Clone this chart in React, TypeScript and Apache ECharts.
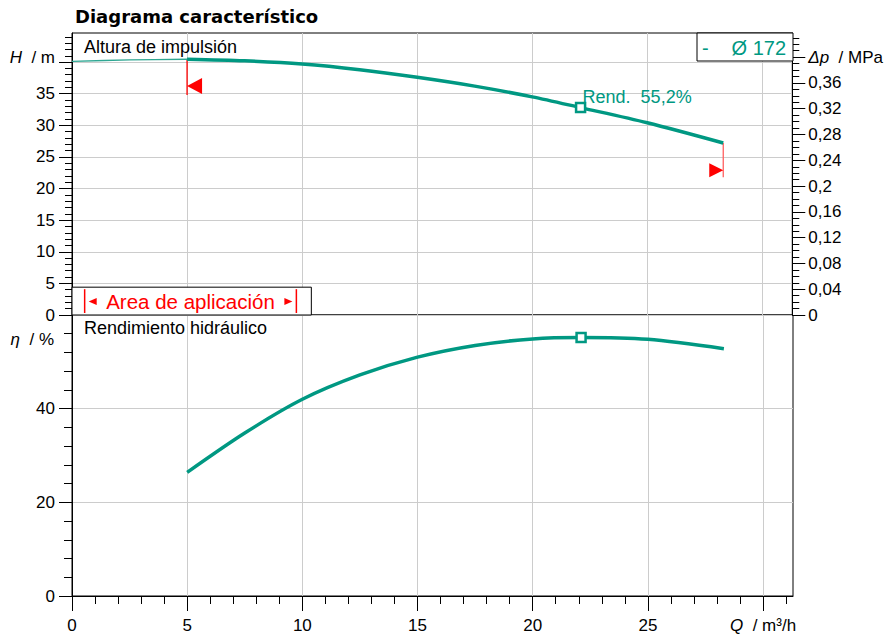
import React, { useEffect, useRef } from "react";
import * as echarts from "echarts";

const GREEN = "#009882";
const GREEN_THIN = "#2fa793";
const RED = "#ff0000";
const GRID_GRAY = "#cccccc";
const SANS = '"Liberation Sans", Arial, sans-serif';
const TITLE_FONT = '"DejaVu Sans", Verdana, sans-serif';

const TITLE = "Diagrama característico";
const PANEL_H = "Altura de impulsión";
const PANEL_ETA = "Rendimiento hidráulico";
const LEGEND_DASH = "-";
const LEGEND_LABEL = "Ø 172";
const AREA_LABEL = "Area de aplicación";
const DUTY_LABEL = "Rend.  55,2%";

const Q_MAX = 31.3;
const H_MAX = 44.6;
const MPA_PER_M = 0.00981;
const ETA_MAX = 60;

const Q_TICKS = [0, 5, 10, 15, 20, 25, 30];
const Q_MINOR_TICKS = Array.from({ length: 32 }, (_, i) => i);
const H_TICKS = [0, 5, 10, 15, 20, 25, 30, 35, 40];
const H_LABELS = [0, 5, 10, 15, 20, 25, 30, 35];
const H_MINOR_TICKS = Array.from({ length: 45 }, (_, i) => i);
const DP_TICKS = [0, 0.04, 0.08, 0.12, 0.16, 0.2, 0.24, 0.28, 0.32, 0.36, 0.4];
const DP_MINOR_TICKS = Array.from({ length: 44 }, (_, i) => i / 100);
const ETA_TICKS = [0, 20, 40];
const ETA_LABELS = [0, 20, 40];
const ETA_MINOR_TICKS = Array.from({ length: 16 }, (_, i) => i * 4);

// thin part of the head curve (outside the application range)
const Q_LOW = [0, 2.5, 5];
const H_LOW = [40.1, 40.35, 40.45];
// main curves
const Q_CURVE = [5, 7.5, 10, 12.5, 15, 17.5, 20, 22.1, 25, 28.3];
const H_CURVE = [40.45, 40.2, 39.7, 38.8, 37.6, 36.2, 34.5, 32.8, 30.4, 27.2];
const ETA_CURVE = [26.4, 34.8, 42.0, 47.2, 51.0, 53.5, 54.9, 55.2, 54.8, 52.8];

const DUTY_Q = 22.1;
const DUTY_H = 32.8;
const DUTY_ETA = 55.2;

// q, h top, h bottom, h of arrow
const LIMIT_LEFT = [5, 40.45, 34.8, 36.2];
const LIMIT_RIGHT = [28.3, 27.2, 21.8, 22.9];

const AREA_BOX = [10.4, 4.4];
const AREA_MARKS = [0.55, 9.75];

const GRID_LEFT = 72;
const GRID_WIDTH = 721;

const fmtComma = (v: number) => String(Math.round(v * 100) / 100).replace(".", ",");

function tickAxisBase(extra: any) {
  return {
    type: "value",
    axisLine: { show: false },
    axisLabel: { show: false },
    splitLine: { show: false },
    ...extra,
  };
}

export default function App() {
  const ref = useRef<HTMLDivElement>(null);

  useEffect(() => {
    if (!ref.current) return;
    const chart = echarts.init(ref.current, null, { renderer: "svg" });

    const labelStyle = { color: "#000", fontFamily: SANS, fontSize: 17 };
    const black = { color: "#000", width: 1 };
    const italic = { fontStyle: "italic", fontFamily: SANS, fontSize: 17, color: "#000" };

    const option: any = {
      animation: false,
      textStyle: { fontFamily: SANS },
      grid: [
        { left: GRID_LEFT, top: 33, width: GRID_WIDTH, height: 282, show: true, borderColor: "#000", borderWidth: 1, backgroundColor: "transparent" },
        { left: GRID_LEFT, top: 315, width: GRID_WIDTH, height: 281, show: true, borderColor: "#000", borderWidth: 1, backgroundColor: "transparent" },
      ],
      xAxis: [
        {
          gridIndex: 0, type: "value", min: 0, max: Q_MAX, interval: 5, position: "bottom",
          axisLine: { show: false }, axisTick: { show: false }, axisLabel: { show: false },
          splitLine: { show: true, lineStyle: { color: GRID_GRAY, width: 1 } },
        },
        {
          gridIndex: 1, type: "value", min: 0, max: Q_MAX, interval: 5, position: "bottom",
          axisLine: { show: true, onZero: false, lineStyle: black },
          axisTick: { show: true, inside: false, length: 15, customValues: Q_TICKS, lineStyle: black },
          axisLabel: {
            ...labelStyle, margin: 21, customValues: Q_TICKS,
            formatter: (v: number) => (Math.abs(v - 30) < 1e-6 ? "{i|Q}  / m³/h" : v % 5 === 0 && v < 30 ? String(v) : ""),
            rich: { i: italic },
          },
          splitLine: { show: true, lineStyle: { color: GRID_GRAY, width: 1 } },
        },
        tickAxisBase({
          gridIndex: 1, min: 0, max: Q_MAX, position: "bottom", interval: 1,
          axisTick: { show: true, inside: false, length: 8, customValues: Q_MINOR_TICKS, lineStyle: black },
        }),
      ],
      yAxis: [
        {
          gridIndex: 0, type: "value", min: 0, max: H_MAX, interval: 5, position: "left",
          axisLine: { show: true, onZero: false, lineStyle: black },
          axisTick: { show: true, inside: false, length: 13, customValues: H_TICKS, lineStyle: black },
          axisLabel: {
            ...labelStyle, margin: 17, customValues: H_LABELS,
            formatter: (v: number) => (v % 5 === 0 && v <= 35 ? String(v) : ""),
          },
          splitLine: { show: true, lineStyle: { color: GRID_GRAY, width: 1 } },
        },
        tickAxisBase({
          gridIndex: 0, min: 0, max: H_MAX, position: "left", interval: 1,
          axisTick: { show: true, inside: false, length: 7, customValues: H_MINOR_TICKS, lineStyle: black },
        }),
        {
          gridIndex: 0, type: "value", min: 0, max: H_MAX * MPA_PER_M, interval: 0.04, position: "right",
          axisLine: { show: true, onZero: false, lineStyle: black },
          axisTick: { show: true, inside: false, length: 13, customValues: DP_TICKS, lineStyle: black },
          axisLabel: {
            ...labelStyle, margin: 16, customValues: DP_TICKS,
            formatter: (v: number) =>
              Math.abs(v - 0.4) < 1e-6 ? "{i|Δp}  / MPa" : v > 0.39 ? "" : fmtComma(v),
            rich: { i: italic },
          },
          splitLine: { show: false },
        },
        tickAxisBase({
          gridIndex: 0, min: 0, max: H_MAX * MPA_PER_M, position: "right", interval: 0.01,
          axisTick: { show: true, inside: false, length: 7, customValues: DP_MINOR_TICKS, lineStyle: black },
        }),
        {
          gridIndex: 1, type: "value", min: 0, max: ETA_MAX, interval: 20, position: "left",
          axisLine: { show: true, onZero: false, lineStyle: black },
          axisTick: { show: true, inside: false, length: 13, customValues: ETA_TICKS, lineStyle: black },
          axisLabel: {
            ...labelStyle, margin: 17, customValues: ETA_LABELS,
            formatter: (v: number) => (v < 60 ? String(v) : ""),
          },
          splitLine: { show: true, lineStyle: { color: GRID_GRAY, width: 1 } },
        },
        tickAxisBase({
          gridIndex: 1, min: 0, max: ETA_MAX, position: "left", interval: 4,
          axisTick: { show: true, inside: false, length: 8, customValues: ETA_MINOR_TICKS, lineStyle: black },
        }),
      ],
      series: [
        {
          type: "line", xAxisIndex: 0, yAxisIndex: 0, smooth: 0.3, symbol: "none",
          data: Q_LOW.map((q, i) => [q, H_LOW[i]]),
          lineStyle: { color: GREEN_THIN, width: 1.3 }, z: 3,
        },
        {
          type: "line", xAxisIndex: 0, yAxisIndex: 0, smooth: 0.3, symbol: "none",
          data: Q_CURVE.map((q, i) => [q, H_CURVE[i]]),
          lineStyle: { color: GREEN, width: 3.5 }, z: 4,
        },
        {
          type: "line", xAxisIndex: 1, yAxisIndex: 4, smooth: 0.3, symbol: "none",
          data: Q_CURVE.map((q, i) => [q, ETA_CURVE[i]]),
          lineStyle: { color: GREEN, width: 3.5 }, z: 4,
        },
        {
          type: "line", xAxisIndex: 0, yAxisIndex: 0, symbol: "none",
          data: [[LIMIT_LEFT[0], LIMIT_LEFT[1]], [LIMIT_LEFT[0], LIMIT_LEFT[2]]],
          lineStyle: { color: RED, width: 1.3 }, z: 2,
        },
        {
          type: "line", xAxisIndex: 0, yAxisIndex: 0, symbol: "none",
          data: [[LIMIT_RIGHT[0], LIMIT_RIGHT[1]], [LIMIT_RIGHT[0], LIMIT_RIGHT[2]]],
          lineStyle: { color: "#ff6060", width: 1.3 }, z: 2,
        },
        {
          type: "scatter", xAxisIndex: 0, yAxisIndex: 0,
          symbol: "path://M10,0L0,5L10,10Z", symbolSize: [15, 16], symbolOffset: [7.5, 0],
          data: [[LIMIT_LEFT[0], LIMIT_LEFT[3]]], itemStyle: { color: RED, opacity: 1 }, z: 5,
        },
        {
          type: "scatter", xAxisIndex: 0, yAxisIndex: 0,
          symbol: "path://M0,0L10,5L0,10Z", symbolSize: [14, 14], symbolOffset: [-7, 0],
          data: [[LIMIT_RIGHT[0], LIMIT_RIGHT[3]]], itemStyle: { color: RED, opacity: 1 }, z: 5,
        },
        {
          type: "scatter", xAxisIndex: 0, yAxisIndex: 0, symbol: "rect", symbolSize: 9,
          data: [[DUTY_Q, DUTY_H]],
          itemStyle: { color: "#fff", borderColor: GREEN, borderWidth: 2.5, opacity: 1 },
          label: {
            show: true, position: "inside", align: "left", verticalAlign: "middle", offset: [2, -11],
            formatter: DUTY_LABEL, color: GREEN, fontFamily: SANS, fontSize: 18,
          },
          z: 6,
        },
        {
          type: "scatter", xAxisIndex: 1, yAxisIndex: 4, symbol: "rect", symbolSize: 9,
          data: [[DUTY_Q, DUTY_ETA]],
          itemStyle: { color: "#fff", borderColor: GREEN, borderWidth: 2.5, opacity: 1 },
          z: 6,
        },
      ],
    };

    chart.setOption(option);

    const px = (q: number, h: number) => chart.convertToPixel({ gridIndex: 0 } as any, [q, h]) as number[];
    const boxTL = px(0, AREA_BOX[1]);
    const boxBR = px(AREA_BOX[0], 0);
    const bx0 = px(AREA_MARKS[0], 0)[0];
    const bx1 = px(AREA_MARKS[1], 0)[0];
    const cy = (boxTL[1] + boxBR[1]) / 2 + 0.5;

    const graphic: any[] = [
      {
        type: "text", x: 75, y: 16,
        style: { text: TITLE, fontFamily: TITLE_FONT, fontWeight: "bold", fontSize: 18, fill: "#000", verticalAlign: "middle" },
      },
      {
        type: "text", x: 84, y: 47,
        style: { text: PANEL_H, fontFamily: SANS, fontSize: 18, fill: "#000", verticalAlign: "middle" },
        z: 10,
      },
      {
        type: "text", x: 84, y: 327.5,
        style: { text: PANEL_ETA, fontFamily: SANS, fontSize: 18, fill: "#000", verticalAlign: "middle" },
        z: 10,
      },
      {
        type: "text", x: 55, y: 57,
        style: {
          text: "{i|H}  / m", fontFamily: SANS, fontSize: 17, fill: "#000", align: "right", verticalAlign: "middle",
          rich: { i: italic },
        },
      },
      {
        type: "text", x: 54, y: 339,
        style: {
          text: "{i|η}  / %", fontFamily: SANS, fontSize: 17, fill: "#000", align: "right", verticalAlign: "middle",
          rich: { i: italic },
        },
      },
      {
        type: "rect", shape: { x: 697, y: 33, width: 96, height: 28 },
        style: { fill: "#fff", stroke: "#000", lineWidth: 1 }, z: 10,
      },
      {
        type: "text", x: 702, y: 47.5,
        style: { text: LEGEND_DASH, fontFamily: SANS, fontSize: 20, fill: GREEN, verticalAlign: "middle" }, z: 11,
      },
      {
        type: "text", x: 786, y: 47.5,
        style: { text: LEGEND_LABEL, fontFamily: SANS, fontSize: 20, fill: GREEN, align: "right", verticalAlign: "middle" }, z: 11,
      },
      {
        type: "rect", shape: { x: boxTL[0], y: boxTL[1], width: boxBR[0] - boxTL[0], height: boxBR[1] - boxTL[1] },
        style: { fill: "#fff", stroke: "#000", lineWidth: 1 }, z: 10,
      },
      {
        type: "line", shape: { x1: bx0, y1: boxTL[1] + 2, x2: bx0, y2: boxBR[1] - 2 },
        style: { stroke: RED, lineWidth: 1.5 }, z: 11,
      },
      {
        type: "line", shape: { x1: bx1, y1: boxTL[1] + 2, x2: bx1, y2: boxBR[1] - 2 },
        style: { stroke: RED, lineWidth: 1.5 }, z: 11,
      },
      {
        type: "polygon", shape: { points: [[bx0 + 4, cy], [bx0 + 12, cy - 3.5], [bx0 + 12, cy + 3.5]] },
        style: { fill: RED }, z: 11,
      },
      {
        type: "polygon", shape: { points: [[bx1 - 4, cy], [bx1 - 12, cy - 3.5], [bx1 - 12, cy + 3.5]] },
        style: { fill: RED }, z: 11,
      },
      {
        type: "text", x: (bx0 + bx1) / 2, y: cy,
        style: { text: AREA_LABEL, fontFamily: SANS, fontSize: 20.5, fill: RED, align: "center", verticalAlign: "middle" }, z: 11,
      },
    ];

    chart.setOption({ graphic });

    return () => chart.dispose();
  }, []);

  return <div ref={ref} style={{ position: "fixed", left: 0, top: 0, width: 886, height: 635, background: "#fff" }} />;
}
